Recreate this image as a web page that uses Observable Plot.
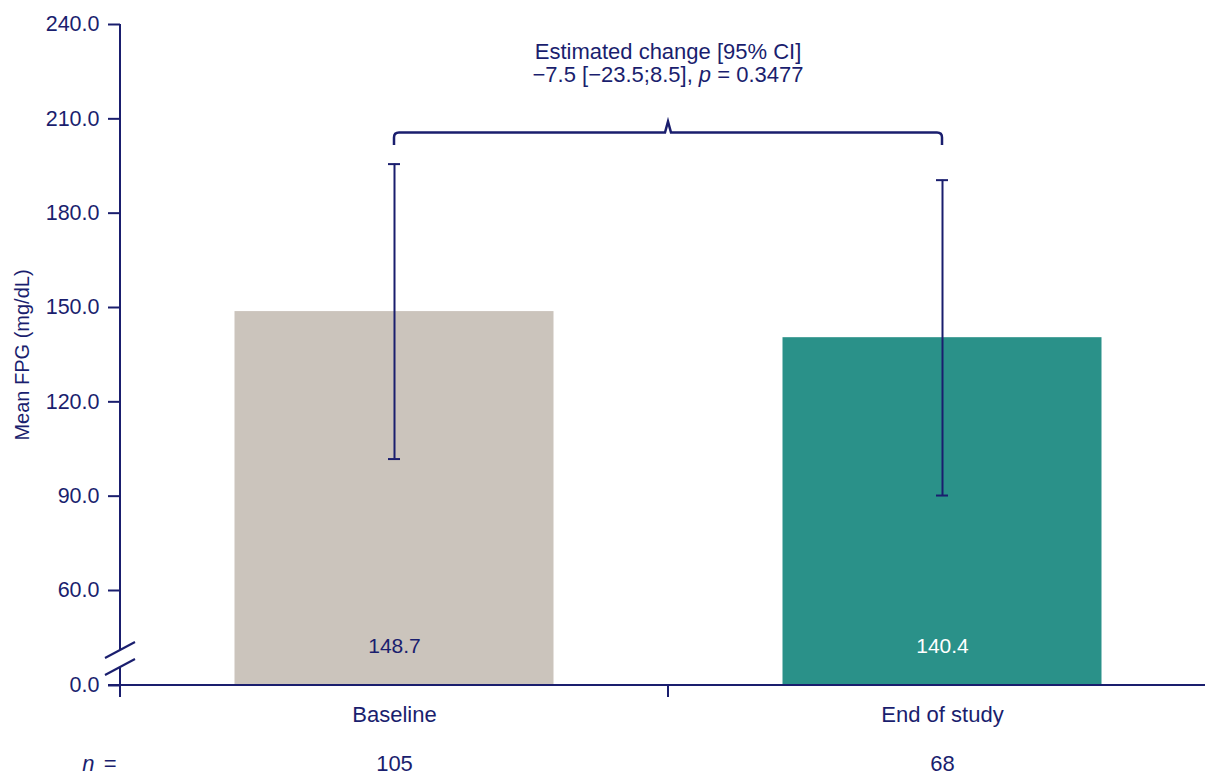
<!DOCTYPE html>
<html><head><meta charset="utf-8">
<script src="https://cdn.jsdelivr.net/npm/d3@7"></script>
<script src="https://cdn.jsdelivr.net/npm/@observablehq/plot@0.6"></script>
<style>body{margin:0;background:#fff}</style>
</head><body><div id="chart"></div>
<script>
// ---- data ----
const categories = ["Baseline", "End of study"];
const means = [148.7, 140.4];
const errLow = [101.8, 90.2];
const errHigh = [195.6, 190.5];
const nValues = [105, 68];
const yTicks = [0, 60, 90, 120, 150, 180, 210, 240];
const yBreakDomain = [0, 60, 240];
const estimateTitle = "Estimated change [95% CI]";
const estimateText = "\u22127.5 [\u221223.5;8.5], ";
const pLabel = "p";
const pValue = " = 0.3477";
const nLabel = "n";
const yLabel = "Mean FPG (mg/dL)";

// ---- style ----
const NAVY = "#1a1e6e";
const FONT = "'Liberation Sans', Arial, Helvetica, sans-serif";
const FS = 22;

const data = categories.map((c, i) => ({cat: c, mean: means[i], lo: errLow[i], hi: errHigh[i], n: nValues[i]}));

function decorations(index, scales, values, dim) {
  const x = scales.x, y = scales.y;
  const bw = typeof x.bandwidth === "function" ? x.bandwidth() : 0;
  const cx = c => x(c) + bw / 2;
  const x0 = dim.marginLeft;
  const y0 = y(0);
  const root = d3.create("svg:g");
  const g = root.append("g").attr("fill", "none").attr("stroke", NAVY).attr("stroke-width", 2);
  // x axis line
  g.append("line").attr("x1", x0 - 12).attr("x2", dim.width).attr("y1", y0).attr("y2", y0);
  // y axis line with break
  const breakTop = y0 - 35, breakBot = y0 - 18;
  g.append("line").attr("x1", x0).attr("x2", x0).attr("y1", y(240)).attr("y2", breakTop);
  g.append("line").attr("x1", x0).attr("x2", x0).attr("y1", breakBot).attr("y2", y0 + 12);
  for (const by of [breakTop, breakBot]) {
    g.append("line").attr("x1", x0 - 15).attr("y1", by + 8).attr("x2", x0 + 15).attr("y2", by - 8);
  }
  // middle tick on x axis
  const c1 = cx(categories[0]), c2 = cx(categories[1]);
  const mid = (c1 + c2) / 2;
  g.append("line").attr("x1", mid).attr("x2", mid).attr("y1", y0).attr("y2", y0 + 12);
  // bracket
  const yTop = y(205.5), yEnd = y(201.5), yPeak = y(209);
  const r = 5;
  g.append("path").attr("stroke-width", 2.5)
    .attr("d", `M${c1},${yEnd}L${c1},${yTop + r}Q${c1},${yTop} ${c1 + r},${yTop}L${mid - 3},${yTop}L${mid},${yPeak}L${mid + 3},${yTop}L${c2 - r},${yTop}Q${c2},${yTop} ${c2},${yTop + r}L${c2},${yEnd}`);
  // annotation
  const t = root.append("g").attr("fill", NAVY).attr("font-size", FS).attr("text-anchor", "middle");
  t.append("text").attr("x", mid).attr("y", yTop - 73).text(estimateTitle);
  const l2 = t.append("text").attr("x", mid).attr("y", yTop - 50);
  l2.append("tspan").text(estimateText);
  l2.append("tspan").attr("font-style", "italic").text(pLabel);
  l2.append("tspan").text(pValue);
  return root.node();
}

const chart = Plot.plot({
  width: 1205,
  height: 780,
  marginLeft: 120,
  marginRight: 0,
  marginTop: 24,
  marginBottom: 95,
  style: {fontFamily: FONT, fontSize: FS + "px", color: NAVY, background: "#fff"},
  x: {type: "band", domain: categories, range: [120, 1216], padding: 0},
  y: {type: "linear", domain: yBreakDomain, range: [685, 590, 24]},
  color: {domain: categories, range: ["#cbc4bc", "#2a9189"]},
  marks: [
    Plot.barY(data, {x: "cat", y: "mean", fill: "cat", insetLeft: 114.5, insetRight: 114.5}),
    Plot.text(data, {filter: d => d.cat === categories[0], x: "cat", text: d => d.mean.toFixed(1), frameAnchor: "bottom", dy: -33, fill: NAVY, fontSize: 21}),
    Plot.text(data, {filter: d => d.cat === categories[1], x: "cat", text: d => d.mean.toFixed(1), frameAnchor: "bottom", dy: -33, fill: "#ffffff", fontSize: 21}),
    Plot.ruleX(data, {x: "cat", y1: "lo", y2: "hi", stroke: NAVY, strokeWidth: 2}),
    Plot.tickY(data, {x: "cat", y: "lo", stroke: NAVY, strokeWidth: 2, insetLeft: 268, insetRight: 268}),
    Plot.tickY(data, {x: "cat", y: "hi", stroke: NAVY, strokeWidth: 2, insetLeft: 268, insetRight: 268}),
    Plot.axisY(yTicks, {tickFormat: d3.format(".1f"), tickSize: 12, tickPadding: 9, fontSize: 21.5, strokeWidth: 2, label: null}),
    Plot.axisX({tickSize: 0, tickPadding: 21, fontSize: FS, label: null}),
    Plot.text(data, {x: "cat", text: d => String(d.n), frameAnchor: "bottom", dy: 85, fill: NAVY, fontSize: FS}),
    Plot.text(["="], {frameAnchor: "bottom-left", textAnchor: "end", dx: -4, dy: 85, fill: NAVY, fontSize: FS}),
    Plot.text([nLabel], {frameAnchor: "bottom-left", textAnchor: "end", dx: -26, dy: 85, fill: NAVY, fontSize: FS, fontStyle: "italic"}),
    Plot.text([yLabel], {frameAnchor: "left", textAnchor: "middle", rotate: -90, dx: -98, fill: NAVY, fontSize: 20}),
    decorations
  ]
});
document.getElementById("chart").appendChild(chart);
</script>
</body></html>
